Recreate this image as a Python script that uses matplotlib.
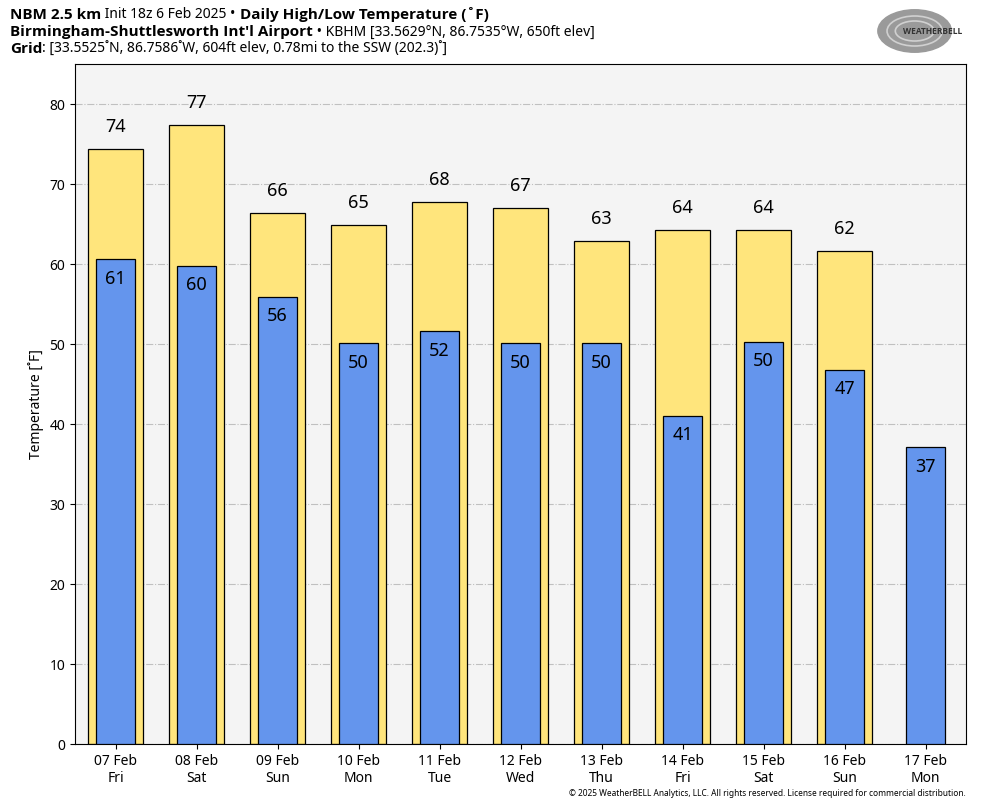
import numpy as np
import matplotlib.pyplot as plt
from matplotlib.text import Annotation
from matplotlib.patches import Ellipse

plt.rcParams['font.family'] = ['Noto Sans', 'DejaVu Sans']

dates = ['07 Feb', '08 Feb', '09 Feb', '10 Feb', '11 Feb', '12 Feb',
         '13 Feb', '14 Feb', '15 Feb', '16 Feb', '17 Feb']
days = ['Fri', 'Sat', 'Sun', 'Mon', 'Tue', 'Wed', 'Thu', 'Fri', 'Sat', 'Sun', 'Mon']
highs = [74.4, 77.4, 66.4, 64.9, 67.8, 67.0, 62.9, 64.3, 64.3, 61.6, np.nan]
lows = [60.6, 59.8, 55.9, 50.1, 51.6, 50.1, 50.1, 41.0, 50.3, 46.8, 37.1]

fig = plt.figure(figsize=(9.84, 8.08), dpi=100)
ax = fig.add_axes([75/984, 1 - 744/808, 891/984, 680/808])
ax.set_facecolor('#f4f4f4')

x = np.arange(len(dates))
ax.bar(x, highs, width=0.68, color='#ffe57c', edgecolor='black', linewidth=0.9, zorder=2)
ax.bar(x, lows, width=0.48, color='#6495ed', edgecolor='black', linewidth=0.9, zorder=3)

for xi, h in zip(x, highs):
    if not np.isnan(h):
        ax.text(xi, h + 1.6, f'{h:.0f}', ha='center', va='bottom', fontsize=13, zorder=4)
for xi, l in zip(x, lows):
    ax.text(xi, l - 1.3, f'{l:.0f}', ha='center', va='top', fontsize=13, zorder=4)

ax.set_xlim(-0.5, len(dates) - 0.5)
ax.set_ylim(0, 85)
ax.set_yticks(range(0, 81, 10))
ax.set_xticks(x)
ax.set_xticklabels([f'{d}\n{w}' for d, w in zip(dates, days)], fontsize=10)
ax.tick_params(axis='y', labelsize=10)
ax.grid(axis='y', color='#c0c0c0', linestyle='-.', linewidth=0.8, zorder=1)
ax.set_axisbelow(True)
ax.set_ylabel('Temperature [˚F]', fontsize=10)

# header lines: bold / normal pieces chained one after another
def header(y, parts):
    last = None
    for txt, bold in parts:
        kw = dict(fontsize=10, va='center', ha='left')
        if bold:
            kw.update(family=['Open Sans', 'DejaVu Sans'], fontweight='bold', fontsize=11)
        if last is None:
            last = fig.text(10 / 984, 1 - y / 808, txt, **kw)
        else:
            last = fig.add_artist(Annotation(txt, xy=(1, 0.5), xycoords=last, **kw))

header(15, [('NBM 2.5 km', True), (' Init 18z 6 Feb 2025 •', False),
            (' Daily High/Low Temperature (˚F)', True)])
header(32, [('Birmingham-Shuttlesworth Int′l Airport', True),
            (' • KBHM [33.5629°N, 86.7535°W, 650ft elev]', False)])
header(49, [('Grid', True),
            (': [33.5525˚N, 86.7586˚W, 604ft elev, 0.78mi to the SSW (202.3)˚]', False)])

# logo approximation
lax = fig.add_axes([876/984, 1 - 56/808, 92/984, 50/808])
lax.set_xlim(0, 1)
lax.set_ylim(0, 1)
lax.axis('off')
lax.add_patch(Ellipse((0.42, 0.5), 0.8, 0.85, color='#9a9a9a'))
for w, h in [(0.6, 0.6), (0.42, 0.4)]:
    lax.add_patch(Ellipse((0.42, 0.5), w, h, fill=False, ec='#d0d0d0', lw=1.2))
lax.text(0.62, 0.5, 'WEATHERBELL', fontsize=6, fontweight='bold', color='#333333',
         family=['Open Sans', 'DejaVu Sans'], ha='center', va='center')

fig.text(966/984, 1 - 794/808, '© 2025 WeatherBELL Analytics, LLC. All rights reserved. '
         'License required for commercial distribution.', fontsize=6, ha='right', va='center')

fig.savefig('out.png', dpi=100)
